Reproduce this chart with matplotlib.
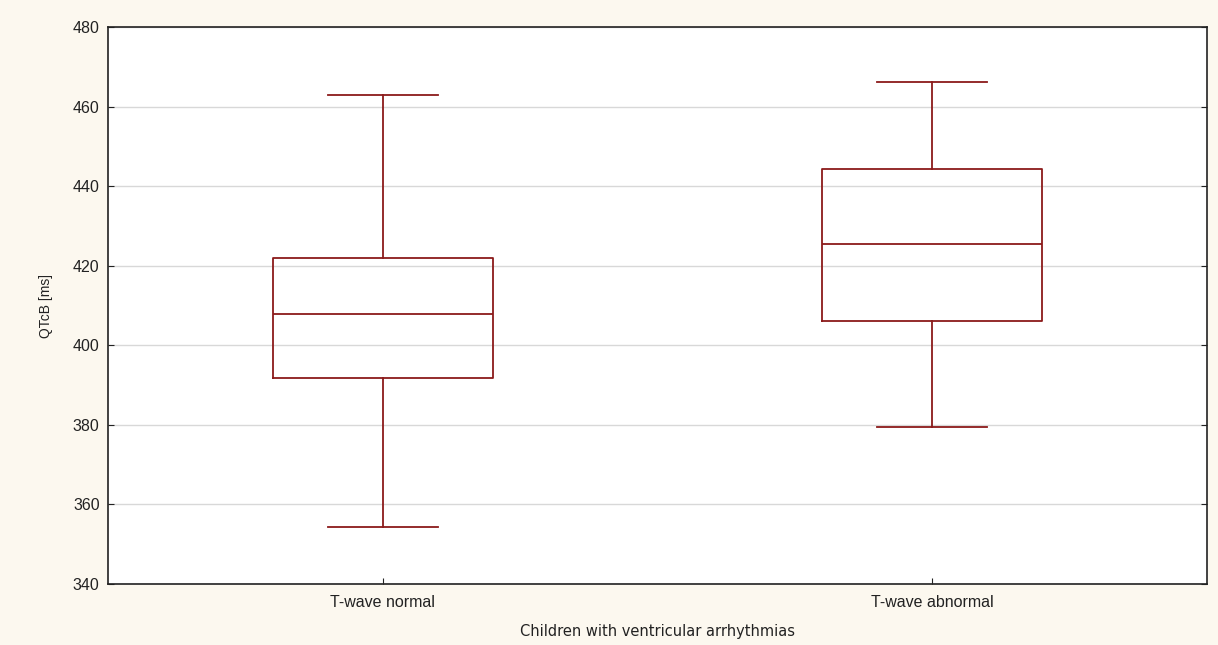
import matplotlib.pyplot as plt

groups = ["T-wave normal", "T-wave abnormal"]
whisker_low = [354.4, 379.5]
q1 = [391.8, 406.1]
median = [407.8, 425.4]
q3 = [422.0, 444.4]
whisker_high = [462.8, 466.3]

box_color = "#8b1a1a"

stats = []
for i, name in enumerate(groups):
    stats.append({
        "label": name,
        "whislo": whisker_low[i],
        "q1": q1[i],
        "med": median[i],
        "q3": q3[i],
        "whishi": whisker_high[i],
        "fliers": [],
    })

fig = plt.figure(figsize=(12.18, 6.45), dpi=100, facecolor="#fcf8ef")
ax = fig.add_axes([108 / 1218, 1 - 584 / 645, 1099 / 1218, 557 / 645])
ax.set_facecolor("white")

line_kw = dict(color=box_color, linewidth=1.3)
ax.bxp(stats, positions=[1, 2], widths=0.4, showfliers=False,
       boxprops=line_kw, medianprops=line_kw, whiskerprops=line_kw,
       capprops=line_kw, capwidths=0.2)

ax.set_xlim(0.5, 2.5)
ax.set_ylim(340, 480)
ax.set_yticks(range(340, 481, 20))
ax.yaxis.grid(True, color="#d8d8d8", linewidth=1)
ax.set_axisbelow(True)

for s in ax.spines.values():
    s.set_color("#222222")
    s.set_linewidth(1.2)

ax.tick_params(axis="both", direction="in", length=4, color="#222222",
               labelsize=11.5, labelcolor="#222222", right=True)
ax.tick_params(axis="x", pad=8)
ax.tick_params(axis="y", pad=6)
for lab in ax.get_xticklabels() + ax.get_yticklabels():
    lab.set_family("Liberation Sans")

ax.set_xlabel("Children with ventricular arrhythmias", fontsize=10.5,
              family="DejaVu Sans", color="#222222", labelpad=10)
ax.set_ylabel("QTcB [ms]", fontsize=10, family="Liberation Sans",
              color="#222222", labelpad=14)

fig.savefig("out.png", dpi=100, facecolor=fig.get_facecolor())
